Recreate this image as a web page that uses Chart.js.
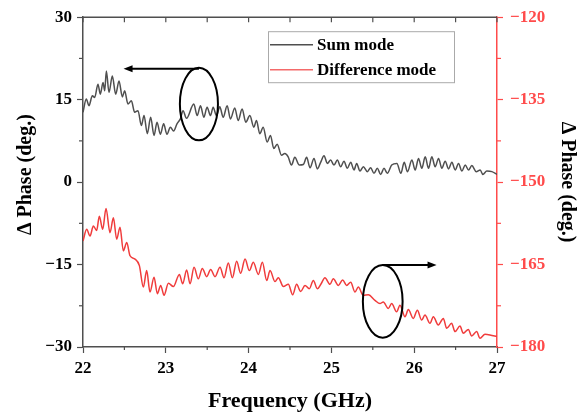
<!DOCTYPE html>
<html><head><meta charset="utf-8">
<script src="https://cdn.jsdelivr.net/npm/chart.js@4/dist/chart.umd.min.js"></script>
<style>html,body{margin:0;padding:0;background:#fff}canvas{display:block}</style>
</head><body>
<canvas id="c" width="588" height="417"></canvas>
<script>
// ---- data ----
const sumFreq = [22.000,22.040,22.072,22.113,22.141,22.181,22.209,22.242,22.262,22.282,22.314,22.354,22.395,22.435,22.475,22.503,22.543,22.584,22.624,22.664,22.705,22.737,22.777,22.817,22.858,22.894,22.934,22.974,23.014,23.055,23.095,23.135,23.176,23.208,23.250,23.338,23.379,23.419,23.459,23.499,23.540,23.572,23.612,23.652,23.693,23.741,23.781,23.833,23.874,23.922,23.966,24.015,24.063,24.095,24.135,24.176,24.224,24.264,24.304,24.345,24.397,24.437,24.478,24.518,24.558,24.613,24.661,24.701,24.742,24.790,24.830,24.870,24.911,24.951,24.991,25.031,25.072,25.112,25.152,25.192,25.233,25.273,25.305,25.345,25.386,25.434,25.474,25.514,25.555,25.595,25.635,25.676,25.728,25.791,25.839,25.879,25.919,25.972,26.012,26.052,26.092,26.133,26.173,26.213,26.253,26.294,26.334,26.374,26.415,26.455,26.495,26.535,26.576,26.616,26.656,26.696,26.749,26.797,26.829,26.877,26.938,27.000];
const sumPhase = [12.7,15.1,13.9,15.7,15.4,17.8,16.0,18.1,16.6,20.2,16.3,19.3,16.0,18.4,15.5,16.6,14.2,14.8,12.7,13.0,10.3,12.1,8.8,11.8,8.5,10.9,8.7,10.6,8.7,10.0,9.3,10.6,11.5,13.0,11.6,14.2,12.1,13.9,11.8,13.6,12.1,13.6,12.1,13.7,11.8,13.9,11.5,13.5,11.2,13.3,10.9,12.1,10.0,11.2,8.8,10.0,7.3,8.5,6.1,6.9,4.9,5.2,4.6,3.1,4.5,3.1,3.2,4.5,2.6,4.3,2.4,3.6,4.8,3.4,4.0,3.1,4.0,2.8,3.8,2.5,3.6,2.2,3.4,2.0,2.8,1.9,2.6,1.6,2.5,1.4,2.5,1.6,3.1,3.4,1.6,3.6,1.9,4.0,2.2,4.3,2.5,4.6,2.5,4.6,2.8,4.3,2.5,3.8,2.4,3.6,2.2,3.4,2.0,3.1,2.2,3.0,1.9,2.2,1.4,2.0,1.9,1.4];
const diffFreq = [22.000,22.045,22.085,22.125,22.165,22.197,22.238,22.278,22.326,22.367,22.407,22.447,22.487,22.528,22.568,22.628,22.681,22.729,22.769,22.809,22.858,22.898,22.938,22.979,23.031,23.091,23.164,23.204,23.252,23.293,23.341,23.393,23.441,23.494,23.542,23.594,23.655,23.703,23.755,23.804,23.856,23.904,23.957,24.009,24.057,24.118,24.166,24.219,24.259,24.319,24.359,24.420,24.480,24.532,24.580,24.629,24.681,24.733,24.782,24.830,24.876,24.922,24.983,25.023,25.084,25.136,25.184,25.233,25.285,25.325,25.385,25.446,25.526,25.587,25.627,25.687,25.728,25.788,25.828,25.889,25.929,25.989,26.038,26.090,26.130,26.191,26.231,26.291,26.352,26.392,26.452,26.493,26.553,26.593,26.654,26.694,26.754,26.795,26.855,26.915,27.000];
const diffPhase = [-160.7,-158.6,-159.8,-158.0,-158.8,-156.2,-158.6,-154.8,-159.2,-156.5,-160.4,-158.2,-162.5,-161.0,-163.4,-164.0,-165.2,-169.1,-166.1,-170.0,-167.3,-170.3,-168.8,-170.6,-168.4,-169.0,-166.8,-168.5,-166.0,-168.5,-165.5,-167.6,-165.7,-167.2,-165.9,-167.2,-165.5,-167.4,-164.7,-167.4,-164.4,-166.6,-164.0,-166.1,-164.6,-166.8,-164.6,-167.9,-166.1,-168.1,-167.4,-169.0,-168.6,-170.5,-168.6,-169.9,-168.8,-169.4,-167.9,-169.4,-168.5,-167.4,-168.6,-167.6,-168.8,-167.8,-168.8,-168.2,-170.0,-169.1,-170.6,-170.5,-171.5,-172.1,-171.8,-173.0,-172.1,-173.6,-172.4,-174.5,-173.2,-174.8,-173.3,-175.1,-174.2,-175.7,-174.5,-176.0,-174.8,-176.6,-175.7,-177.2,-176.2,-177.5,-176.8,-178.0,-177.2,-178.4,-177.7,-177.8,-178.1];
const xTicks = [22,23,24,25,26,27];
const leftTicks = [-30,-15,0,15,30];
const rightTicks = [-180,-165,-150,-135,-120];
const seriesNames = ['Sum mode','Difference mode'];

// ---- styles ----
const FONT = '"Liberation Serif","Times New Roman",serif';
const GREY = '#4f4f4f';
const RED = '#f03c3c';
const AXRED = '#ff4b4b';
const minus = v => (v < 0 ? '\u2212' : '') + Math.abs(v);

// annotation anchors in data units
const ell1 = {x: 23.40, y: 14.2, rx: 0.23, ry: 6.6, axis: 'y'};
const arr1 = {x0: 23.40, x1: 22.49, y: 20.6, axis: 'y'};
const ell2 = {x: 25.62, y: -171.7, rx: 0.24, ry: 6.6, axis: 'y1'};
const arr2 = {x0: 25.62, x1: 26.27, y: -165.1, axis: 'y1'};

const extras = {
  id: 'extras',
  afterDraw(chart) {
    const {ctx, chartArea: a, scales} = chart;
    const x = scales.x, yl = scales.y, yr = scales.y1;
    ctx.save();
    const seg = (x0, y0, x1, y1) => { ctx.beginPath(); ctx.moveTo(x0, y0); ctx.lineTo(x1, y1); ctx.stroke(); };
    // top frame + inward ticks
    ctx.strokeStyle = GREY; ctx.lineWidth = 1.5;
    seg(a.left, a.top, a.right, a.top);
    ctx.lineWidth = 1.2;
    for (let v = xTicks[0]; v <= xTicks[xTicks.length - 1] + 1e-9; v += 0.5) {
      const px = x.getPixelForValue(v);
      seg(px, a.top, px, a.top + 5);
      if (Math.abs(v - Math.round(v)) > 0.1) seg(px, a.bottom, px, a.bottom + 3);
    }
    // left minor ticks
    for (let i = 0; i < leftTicks.length - 1; i++) {
      const py = yl.getPixelForValue((leftTicks[i] + leftTicks[i + 1]) / 2);
      seg(a.left - 4, py, a.left, py);
    }
    // right minor ticks
    ctx.strokeStyle = AXRED;
    for (let i = 0; i < rightTicks.length - 1; i++) {
      const py = yr.getPixelForValue((rightTicks[i] + rightTicks[i + 1]) / 2);
      seg(a.right, py, a.right + 4, py);
    }
    // ellipses + arrows
    ctx.strokeStyle = '#000'; ctx.fillStyle = '#000'; ctx.lineWidth = 2;
    [ell1, ell2].forEach(e => {
      const sc = scales[e.axis];
      const cx = x.getPixelForValue(e.x), cy = sc.getPixelForValue(e.y);
      const rx = Math.abs(x.getPixelForValue(e.x + e.rx) - cx);
      const ry = Math.abs(sc.getPixelForValue(e.y + e.ry) - cy);
      ctx.beginPath(); ctx.ellipse(cx, cy, rx, ry, 0, 0, Math.PI * 2); ctx.stroke();
    });
    [arr1, arr2].forEach(r => {
      const sc = scales[r.axis];
      const x0 = x.getPixelForValue(r.x0), x1 = x.getPixelForValue(r.x1), py = sc.getPixelForValue(r.y);
      const d = Math.sign(x1 - x0);
      seg(x0, py, x1 - d * 6, py);
      ctx.beginPath(); ctx.moveTo(x1, py); ctx.lineTo(x1 - d * 9, py - 3.5); ctx.lineTo(x1 - d * 9, py + 3.5); ctx.closePath(); ctx.fill();
    });
    // legend
    const lx = a.left + 185, ly = a.top + 14, lw = 186, lh = 51;
    ctx.fillStyle = '#fff'; ctx.fillRect(lx, ly, lw, lh);
    ctx.strokeStyle = '#aaa'; ctx.lineWidth = 1; ctx.strokeRect(lx + 0.5, ly + 0.5, lw, lh);
    ctx.font = 'bold 17px ' + FONT; ctx.textBaseline = 'middle'; ctx.textAlign = 'left';
    const rows = [[GREY, 13.5], ['#f46a6a', 38.5]];
    rows.forEach((r, i) => {
      ctx.strokeStyle = r[0]; ctx.lineWidth = 1.5;
      seg(lx + 2, ly + r[1], lx + 45, ly + r[1]);
      ctx.fillStyle = '#000'; ctx.fillText(seriesNames[i], lx + 49, ly + r[1] + 1);
    });
    ctx.restore();
  }
};

const tickFont = {family: FONT, size: 17, weight: 'bold'};
const titleFont = {family: FONT, size: 20, weight: 'bold'};

new Chart(document.getElementById('c'), {
  type: 'line',
  data: {
    datasets: [
      {label: seriesNames[0], data: sumFreq.map((f, i) => ({x: f, y: sumPhase[i]})), borderColor: GREY, borderWidth: 1.5, pointRadius: 0, cubicInterpolationMode: 'monotone', yAxisID: 'y'},
      {label: seriesNames[1], data: diffFreq.map((f, i) => ({x: f, y: diffPhase[i]})), borderColor: RED, borderWidth: 1.5, pointRadius: 0, cubicInterpolationMode: 'monotone', yAxisID: 'y1'}
    ]
  },
  options: {
    responsive: false, animation: false, devicePixelRatio: 1,
    layout: {padding: {top: 14, left: 0, right: 0, bottom: 0}},
    plugins: {legend: {display: false}, tooltip: {enabled: false}},
    scales: {
      x: {
        type: 'linear', position: 'bottom', min: xTicks[0], max: xTicks[xTicks.length - 1],
        afterBuildTicks: s => { s.ticks = xTicks.map(v => ({value: v})); },
        ticks: {color: '#000', font: tickFont, padding: 5, maxRotation: 0, autoSkip: false, callback: v => minus(v)},
        grid: {drawOnChartArea: false, drawTicks: true, tickLength: 6, color: GREY, tickWidth: 1.2},
        border: {display: true, color: GREY, width: 1.5},
        title: {display: true, text: 'Frequency (GHz)', color: '#000', font: {family: FONT, size: 22, weight: 'bold'}, padding: {top: 0, bottom: 2}},
        afterFit: s => { s.height = 70; }
      },
      y: {
        type: 'linear', position: 'left', min: leftTicks[0], max: leftTicks[leftTicks.length - 1],
        afterBuildTicks: s => { s.ticks = leftTicks.map(v => ({value: v})); },
        ticks: {color: '#000', font: tickFont, padding: 5, callback: v => minus(v)},
        grid: {drawOnChartArea: false, drawTicks: true, tickLength: 6, color: GREY, tickWidth: 1.2},
        border: {display: true, color: GREY, width: 1.5},
        title: {display: true, text: '   \u0394 Phase (deg.)', color: '#000', font: titleFont, padding: {top: 14, bottom: 0}},
        afterFit: s => { s.width = 83; }
      },
      y1: {
        type: 'linear', position: 'right', min: rightTicks[0], max: rightTicks[rightTicks.length - 1],
        afterBuildTicks: s => { s.ticks = rightTicks.map(v => ({value: v})); },
        ticks: {color: AXRED, font: tickFont, padding: 7, callback: v => minus(v)},
        grid: {drawOnChartArea: false, drawTicks: true, tickLength: 6, color: AXRED, tickWidth: 1.2},
        border: {display: true, color: AXRED, width: 1.5},
        title: {display: true, text: '\u0394 Phase (deg.)', color: '#000', font: titleFont, padding: {top: 9, bottom: 0}},
        afterFit: s => { s.width = 91; }
      }
    }
  },
  plugins: [extras]
});
</script>
</body></html>
